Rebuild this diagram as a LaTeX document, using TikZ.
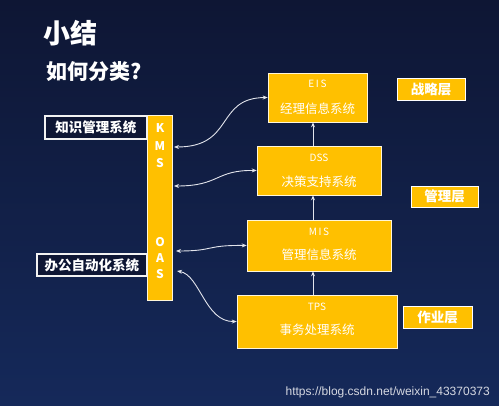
\documentclass[tikz,border=0pt]{standalone}
\usepackage{fontspec}
\setmainfont{Noto Sans CJK SC}
\newfontfamily\wmfont{Liberation Sans}
\usetikzlibrary{arrows.meta,calc}
\definecolor{bgtop}{HTML}{0E1634}
\definecolor{bgbot}{HTML}{15295A}
\definecolor{gold}{HTML}{FFC000}
\definecolor{linkc}{HTML}{E2E4EC}
\tikzset{
  sysbox/.style={draw=white!85!gold, line width=0.6pt, fill=gold, inner sep=0pt},
  sysname/.style={text=white, font=\fontsize{10}{10}\selectfont, inner sep=0pt},
  syscn/.style={text=white, font=\fontsize{12.5}{13}\selectfont, inner sep=0pt},
  layerbox/.style={draw=white, line width=0.8pt, fill=gold, text=white, font=\bfseries\fontsize{13.5}{14}\selectfont, inner sep=0pt},
  leftbox/.style={draw=white!90!gray, line width=1.1pt, fill=bgtop, text=white, font=\bfseries\fontsize{13.5}{14}\selectfont, inner sep=0pt},
  letter/.style={text=white, font=\bfseries\fontsize{12}{12}\selectfont, inner sep=0pt},
  link/.style={draw=linkc, line width=0.9pt, {Stealth[length=5pt,width=4pt]}-{Stealth[length=5pt,width=4pt]}},
  vlink/.style={draw=linkc, line width=0.9pt, -{Stealth[length=5pt,width=4pt]}},
}
\begin{document}
\begin{tikzpicture}[x=1pt,y=-1pt]
\useasboundingbox (0,0) rectangle (499,406);
\shade[top color=bgtop, bottom color=bgbot] (0,0) rectangle (499,406);

% titles
\node[anchor=west, text=white, font=\bfseries\fontsize{27}{28}\selectfont, inner sep=0pt] (title) at (43,33) {小结};
\node[anchor=west, text=white, font=\bfseries\fontsize{21}{22}\selectfont, inner sep=0pt] (sub) at (46,72) {如何分类?};

% KMS / OAS bar
\node[fill=gold, draw=white!85!gold, line width=0.6pt, minimum width=25pt, minimum height=185pt, inner sep=0pt] (bar) at (159.5,207.5) {};
\node[letter] (k1) at (160,128) {K};
\node[letter] (k2) at (160,146) {M};
\node[letter] (k3) at (160,163) {S};
\node[letter] (o1) at (160,242) {O};
\node[letter] (o2) at (160,258) {A};
\node[letter] (o3) at (160,274) {S};

% left boxes
\node[leftbox, minimum width=102pt, minimum height=23pt] (kms) at (96,127.5) {知识管理系统};
\node[leftbox, minimum width=110pt, minimum height=22pt] (oas) at (92,265) {办公自动化系统};

% system boxes
\node[sysbox, minimum width=99pt, minimum height=49pt] (eis) at (317.5,97.5) {};
\node[sysbox, minimum width=124pt, minimum height=49pt] (dss) at (319,170.5) {};
\node[sysbox, minimum width=144pt, minimum height=51pt] (mis) at (319,245.5) {};
\node[sysbox, minimum width=160pt, minimum height=53pt] (tps) at (317,321.5) {};

\node[sysname] (eisn) at ($(eis.center)+(0,-13.5)$) {E\,I\,S};
\node[syscn] (eisc) at ($(eis.center)+(0,11)$) {经理信息系统};
\node[sysname] (dssn) at ($(dss.center)+(0,-12.5)$) {DSS};
\node[syscn] (dssc) at ($(dss.center)+(0,11)$) {决策支持系统};
\node[sysname] (misn) at ($(mis.center)+(0,-13.5)$) {M\,I\,S};
\node[syscn] (misc) at ($(mis.center)+(0,9.5)$) {管理信息系统};
\node[sysname] (tpsn) at ($(tps.center)+(0,-14.5)$) {TPS};
\node[syscn] (tpsc) at ($(tps.center)+(0,8.5)$) {事务处理系统};

% layer labels
\node[layerbox, minimum width=68pt, minimum height=22pt] (l1) at (431,89) {战略层};
\node[layerbox, minimum width=67pt, minimum height=21pt] (l2) at (444.5,196.5) {管理层};
\node[layerbox, minimum width=69pt, minimum height=22pt] (l3) at (437.5,317) {作业层};

% connector anchor points on the bar
\coordinate (b1) at (174,147);
\coordinate (b2) at (174,186);
\coordinate (b3) at (176,251);
\coordinate (b4) at (177,271);
\coordinate (vx) at (313,0);

% vertical arrows
\draw[vlink] (dss.north -| vx) -- (eis.south -| vx);
\draw[vlink] (mis.north -| vx) -- (dss.south -| vx);
\draw[vlink] (tps.north -| vx) -- (mis.south -| vx);

% curved links
\draw[link] (eis.west) .. controls (215,98) and (235,147) .. (b1);
\draw[link] (dss.west) .. controls (215,170) and (220,186) .. (b2);
\draw[link] (mis.west) .. controls (205,245) and (215,251) .. (b3);
\draw[link] (tps.west) .. controls (205,322) and (200,275) .. (b4);

% watermark
\node[anchor=east, text=white!82!bgbot, font=\wmfont\fontsize{12}{12}\selectfont, inner sep=0pt] (wm) at (490,392) {https://blog.csdn.net/weixin\_43370373};
\end{tikzpicture}
\end{document}
